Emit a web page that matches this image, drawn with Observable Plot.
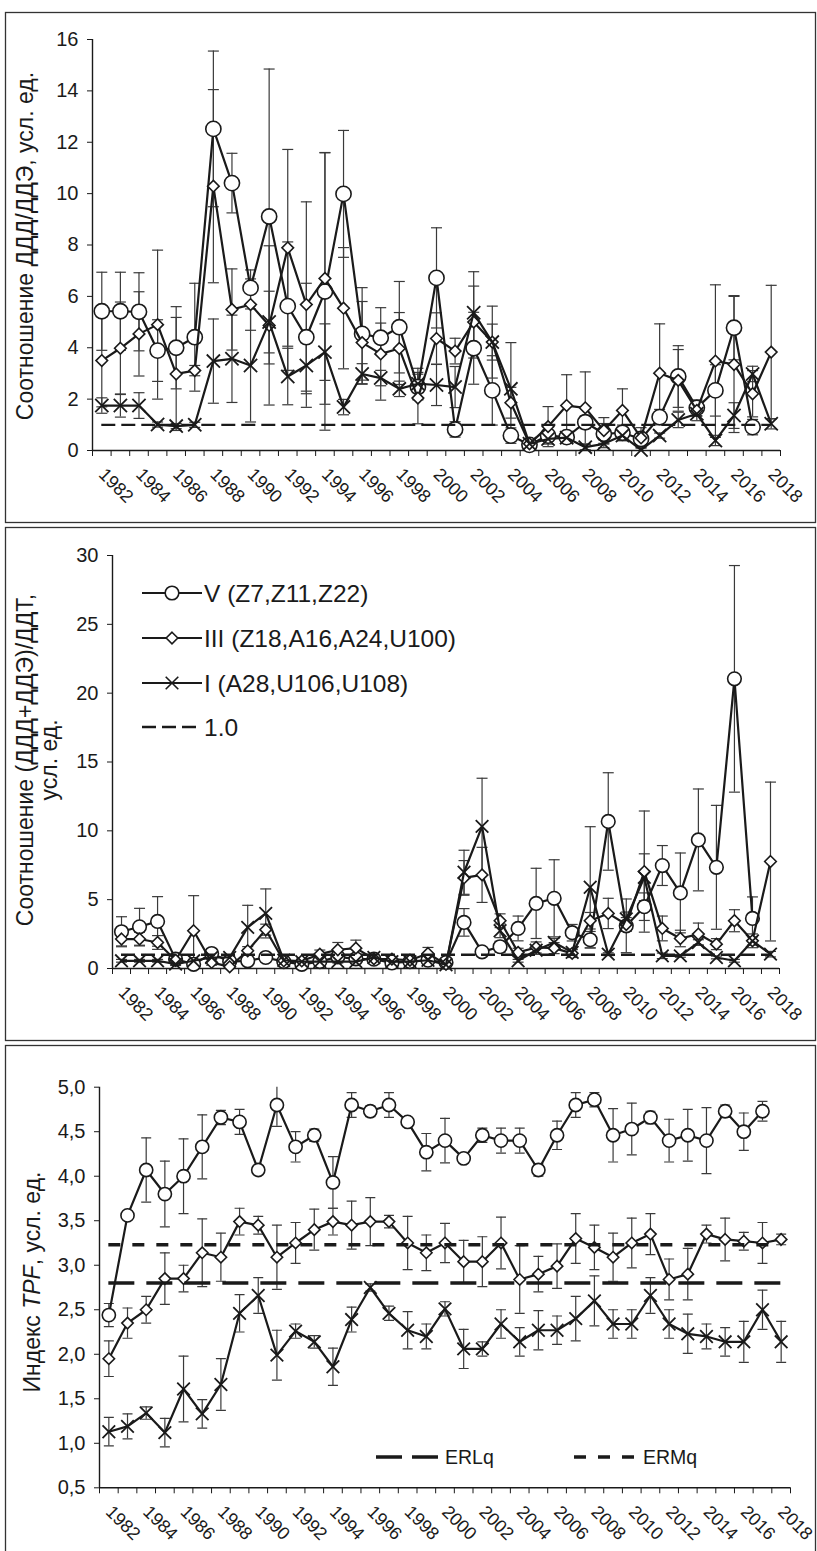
<!DOCTYPE html>
<html><head><meta charset="utf-8">
<script src="https://cdn.jsdelivr.net/npm/d3@7"></script>
<script src="https://cdn.jsdelivr.net/npm/@observablehq/plot@0.6"></script>
<style>
body{margin:0;background:#fff;}
#page{position:relative;width:817px;height:1551px;overflow:hidden;font-family:"Liberation Sans",Arial,sans-serif;}
.pl{position:absolute;left:0;}
#ov{position:absolute;left:0;top:0;pointer-events:none;}
</style></head><body><div id="page"></div>
<script>
// ---------- categories ----------
const years = [1982,1983,1984,1985,1986,1987,1988,1989,1990,1991,1992,1993,1994,1995,1996,1997,1998,1999,2000,2001,2002,2003,2004,2005,2006,2007,2008,2009,2010,2011,2012,2013,2014,2015,2016,2017,2018];
const xLabels = [1982,1984,1986,1988,1990,1992,1994,1996,1998,2000,2002,2004,2006,2008,2010,2012,2014,2016,2018];
const seriesNames = ["V (Z7,Z11,Z22)", "III (Z18,A16,A24,U100)", "I (A28,U106,U108)", "1.0"];

// ---------- panel 1: ДДД/ДДЭ ----------
const p1V  = [5.42,5.42,5.40,3.89,4.00,4.41,12.52,10.41,6.33,9.11,5.62,4.41,6.19,9.99,4.54,4.39,4.80,2.47,6.72,0.82,3.98,2.34,0.58,0.22,0.58,0.52,1.10,0.65,0.69,0.45,1.30,2.88,1.66,2.34,4.78,0.91,null];
const p1Ve = [1.52,1.52,1.52,1.2,1.6,2.1,3.03,1.16,0.7,5.74,2.5,2.1,5.4,2.47,1.8,0.57,1.78,0.5,1.95,0.3,1.4,1.35,0.3,0.1,0.2,0.2,0.25,0.4,0.3,0.2,0.3,1.2,0.3,1.0,1.25,0.3,null];
const p1III  = [3.50,3.98,4.54,4.90,2.98,3.11,10.29,5.49,5.68,4.87,7.89,5.68,6.70,5.54,4.20,3.76,3.97,2.04,4.36,3.87,5.00,4.22,1.86,0.26,0.93,1.75,1.66,0.78,1.56,0.49,3.01,2.73,1.56,3.48,3.35,2.21,3.83];
const p1IIIe = [1.8,1.8,1.64,2.9,2.2,0.2,3.76,1.58,1.0,3.1,3.83,4.0,4.9,2.36,1.6,1.8,1.4,1.0,1.0,0.5,1.4,0.7,0.6,0.1,0.78,1.2,1.4,0.5,0.84,0.4,1.92,1.2,0.4,2.97,2.65,0.9,2.6];
const p1I  = [1.75,1.75,1.75,1.01,0.95,1.00,3.48,3.57,3.31,5.00,2.88,3.31,3.83,1.69,2.98,2.82,2.40,2.60,2.55,2.47,5.36,4.22,2.40,0.26,0.45,0.50,0.13,0.26,0.58,0.02,0.58,1.19,1.43,0.39,1.36,2.98,1.04];
const p1Ie = [0.3,0.45,0.5,0.1,0.1,0.1,1.64,1.7,2.2,1.2,1.1,1.1,1.1,0.3,0.4,0.3,0.3,0.6,0.8,0.8,1.6,1.4,1.8,0.1,0.2,0.1,0.1,0.15,0.2,0.1,0.1,0.3,0.1,0.2,0.5,0.3,0.2];
const p1Ticks = [0,2,4,6,8,10,12,14,16];
const p1Ref = 1.0;

// ---------- panel 2: (ДДД+ДДЭ)/ДДТ ----------
const p2V  = [2.67,3.03,3.42,0.68,0.30,1.09,0.50,0.56,0.80,0.50,0.30,0.50,0.85,0.70,0.68,0.40,0.50,0.60,0.44,3.35,1.21,1.58,2.91,4.73,5.10,2.60,2.09,10.68,3.10,4.49,7.48,5.49,9.34,7.35,21.04,3.64,null];
const p2Ve = [1.09,1.34,1.8,0.2,0.2,0.2,0.1,0.2,0.3,0.2,0.1,0.2,0.2,0.2,0.1,0.1,0.2,0.2,0.1,1.0,0.2,0.4,0.9,2.55,2.8,0.6,0.6,3.54,1.95,1.0,1.45,2.9,3.7,4.5,8.23,1.56,null];
const p2III  = [2.14,2.14,1.89,0.60,2.74,0.44,0.12,1.29,2.82,0.55,0.55,1.04,1.36,1.48,0.70,0.68,0.60,1.09,0.30,6.58,6.80,3.47,1.17,1.53,1.48,1.10,3.47,4.00,3.20,7.04,2.91,2.18,2.50,1.77,3.47,2.01,7.77];
const p2IIIe = [0.5,0.5,0.5,0.2,2.55,0.2,0.1,0.3,0.4,0.2,0.2,0.3,0.53,0.58,0.2,0.2,0.2,0.44,0.1,1.26,2.0,0.5,0.3,0.4,0.4,0.3,0.6,1.1,0.5,4.4,0.9,0.6,0.8,0.4,0.8,0.5,5.77];
const p2I  = [0.56,0.56,0.56,0.32,0.56,0.80,0.80,2.99,4.00,0.60,0.50,0.50,0.50,0.50,0.80,0.50,0.50,0.60,0.27,6.99,10.32,2.74,0.56,1.33,1.89,1.17,5.90,1.04,3.60,6.63,0.92,0.92,1.89,0.80,0.56,2.00,1.04];
const p2Ie = [0.1,0.1,0.1,0.1,0.1,0.1,0.1,1.6,1.78,0.1,0.1,0.1,0.1,0.1,0.1,0.1,0.1,0.1,0.1,1.6,3.5,0.5,0.1,0.3,0.3,0.2,4.4,0.1,0.5,1.7,0.2,0.1,0.2,0.1,0.1,0.3,0.2];
const p2Ticks = [0,5,10,15,20,25,30];
const p2Ref = 1.0;

// ---------- panel 3: TPF ----------
const p3V  = [2.44,3.56,4.07,3.80,4.00,4.33,4.66,4.61,4.07,4.80,4.33,4.46,3.93,4.80,4.73,4.80,4.61,4.27,4.40,4.20,4.46,4.40,4.40,4.07,4.46,4.80,4.86,4.46,4.53,4.66,4.40,4.46,4.40,4.73,4.50,4.73,null];
const p3Ve = [0.13,0,0.36,0.37,0.42,0.36,0.08,0.14,0.05,0.24,0.17,0.07,0.29,0.14,0.06,0.14,0,0.21,0.25,0,0.08,0.14,0.14,0.07,0.16,0.14,0.08,0.3,0.29,0.07,0.24,0.29,0.37,0.07,0.21,0.11,null];
const p3III  = [1.95,2.35,2.50,2.85,2.85,3.14,3.09,3.49,3.45,3.09,3.25,3.40,3.49,3.45,3.49,3.49,3.25,3.14,3.25,3.04,3.04,3.25,2.84,2.90,2.99,3.30,3.20,3.09,3.25,3.35,2.84,2.90,3.35,3.29,3.27,3.25,3.29];
const p3IIIe = [0.2,0.17,0.15,0.29,0.15,0.38,0.27,0.15,0.1,0.36,0.23,0.23,0.15,0.27,0.27,0.07,0.3,0.2,0.22,0.24,0.28,0.29,0.38,0.2,0.25,0.28,0.25,0.27,0.28,0.23,0.23,0.29,0.1,0.24,0.1,0.23,0.06];
const p3I  = [1.13,1.19,1.34,1.12,1.61,1.33,1.66,2.46,2.66,1.99,2.26,2.14,1.86,2.39,2.75,2.46,2.27,2.20,2.51,2.06,2.06,2.34,2.14,2.27,2.27,2.40,2.60,2.34,2.34,2.66,2.34,2.23,2.20,2.14,2.14,2.50,2.14];
const p3Ie = [0.16,0.14,0.07,0.16,0.37,0.16,0.29,0.21,0.2,0.28,0.08,0.07,0.21,0.14,0.04,0.08,0.21,0.14,0.08,0.22,0.08,0.16,0.16,0.22,0.16,0.25,0.28,0.16,0.16,0.2,0.16,0.22,0.14,0.16,0.23,0.22,0.23];
const p3Ticks = [0.5,1.0,1.5,2.0,2.5,3.0,3.5,4.0,4.5,5.0];
const refNames = ["ERLq", "ERMq"];
const refValues = [2.80, 3.23];

const titles = {
  p1: ["Соотношение ДДД/ДДЭ, усл. ед."],
  p2: ["Соотношение (ДДД+ДДЭ)/ДДТ,", "усл. ед."],
  p3: ["Индекс ", "TPF", ", усл. ед."]
};

// ---------- symbols ----------
const R = s => Math.sqrt(s / Math.PI);
const symCircle = {draw(c, s){const r = R(s); c.moveTo(r, 0); c.arc(0, 0, r, 0, 2 * Math.PI); c.closePath();}};
const symDiamond = {draw(c, s){const r = R(s); c.moveTo(0, -r); c.lineTo(r, 0); c.lineTo(0, r); c.lineTo(-r, 0); c.closePath();}};
const symTimes = {draw(c, s){const r = R(s); c.moveTo(-r, -r); c.lineTo(r, r); c.moveTo(-r, r); c.lineTo(r, -r);}};
const symCap = {draw(c, s){const r = R(s); c.moveTo(-r, 0); c.lineTo(r, 0);}};

const INK = "#1a1a1a";
const ERR = "#3a3a3a";
const FONT = "'Liberation Sans', Arial, sans-serif";
const bounds = years.map(y => y - 0.5).concat([years[years.length - 1] + 0.5]);

function rowsOf(vals, errs) {
  return years.map((y, i) => ({year: y, v: vals[i], e: errs[i]})).filter(d => d.v != null);
}

function makePanel(cfg) {
  const marks = [];
  marks.push(Plot.ruleY([cfg.ydom[0]], {stroke: INK, strokeWidth: 1.4}));
  marks.push(Plot.ruleX([bounds[0]], {stroke: INK, strokeWidth: 1.4}));
  marks.push(Plot.axisY({ticks: cfg.yticks, tickSize: 5, tickPadding: 9, tickFormat: cfg.yfmt, fontSize: 20, color: INK, label: null}));
  marks.push(Plot.axisX({ticks: bounds, tickSize: 6, tickFormat: () => "", color: INK, label: null}));
  marks.push(Plot.axisX({ticks: xLabels, tickSize: 0, tickPadding: 21, tickRotate: 45, tickFormat: d => String(d), fontSize: 18, color: INK, label: null}));
  cfg.series.forEach(s => {
    const rows = rowsOf(s.v, s.e);
    const er = rows.filter(d => d.e > 0);
    marks.push(Plot.ruleX(er, {x: "year", y1: d => d.v - d.e, y2: d => d.v + d.e, stroke: ERR, strokeWidth: 1.2, clip: true}));
    marks.push(Plot.dot(er, {x: "year", y: d => d.v + d.e, symbol: symCap, r: cfg.cap, stroke: ERR, strokeWidth: 1.2, clip: true}));
    marks.push(Plot.dot(er, {x: "year", y: d => d.v - d.e, symbol: symCap, r: cfg.cap, stroke: ERR, strokeWidth: 1.2, clip: true}));
  });
  cfg.series.forEach(s => {
    const rows = rowsOf(s.v, s.e);
    marks.push(Plot.line(rows, {x: "year", y: "v", stroke: INK, strokeWidth: 2.2}));
    marks.push(Plot.dot(rows, {x: "year", y: "v", symbol: s.sym, r: s.r, fill: s.fill, stroke: INK, strokeWidth: s.sw}));
  });
  cfg.refs.forEach(rf => {
    marks.push(Plot.ruleY([rf.value], {x1: years[0], x2: years[years.length - 1], stroke: INK, strokeWidth: rf.w, strokeDasharray: rf.dash}));
  });
  const svg = Plot.plot({
    width: 817, height: cfg.height,
    marginTop: cfg.mt, marginBottom: cfg.mb, marginLeft: cfg.ml, marginRight: cfg.mr,
    x: {domain: [bounds[0], bounds[bounds.length - 1]]},
    y: {domain: cfg.ydom},
    style: {fontFamily: FONT, color: INK, background: "transparent", overflow: "visible"},
    marks
  });
  const wrap = document.createElement("div");
  wrap.className = "pl";
  wrap.style.top = cfg.top + "px";
  wrap.appendChild(svg);
  document.getElementById("page").appendChild(wrap);
}

const sV = (v, e, r) => ({v, e, sym: symCircle, r, fill: "white", sw: 1.6});
const sIII = (v, e, r) => ({v, e, sym: symDiamond, r, fill: "white", sw: 1.6});
const sI = (v, e, r) => ({v, e, sym: symTimes, r, fill: "none", sw: 1.8});

makePanel({top: 12, height: 510, mt: 27, mb: 72, ml: 92, mr: 37, ydom: [0, 16], yticks: p1Ticks, yfmt: d => String(d), cap: 5.5,
  series: [sV(p1V, p1Ve, 7.6), sIII(p1III, p1IIIe, 5.8), sI(p1I, p1Ie, 6.6)],
  refs: [{value: p1Ref, w: 2.2, dash: "14,6"}]});
makePanel({top: 527, height: 513, mt: 28, mb: 72, ml: 112, mr: 38, ydom: [0, 30], yticks: p2Ticks, yfmt: d => String(d), cap: 5.5,
  series: [sV(p2V, p2Ve, 6.8), sIII(p2III, p2IIIe, 5.8), sI(p2I, p2Ie, 6.3)],
  refs: [{value: p2Ref, w: 2.4, dash: "14,6"}]});
makePanel({top: 1045, height: 506, mt: 41.7, mb: 63.7, ml: 99, mr: 27, ydom: [0.5, 5], yticks: p3Ticks, yfmt: d => d3.format(".1f")(d).replace(".", ","), cap: 5,
  series: [sV(p3V, p3Ve, 6.6), sIII(p3III, p3IIIe, 5.7), sI(p3I, p3Ie, 6.3)],
  refs: [{value: refValues[0], w: 3.6, dash: "26,12"}, {value: refValues[1], w: 3.6, dash: "12,12"}]});

// ---------- overlay: frames, axis titles, legends ----------
const ov = d3.select("#page").append("svg").attr("id", "ov").attr("width", 817).attr("height", 1551)
  .style("font-family", FONT).style("fill", INK);
[[12, 522], [527, 1040], [1045, 1560]].forEach(([a, b]) => {
  ov.append("rect").attr("x", 5.5).attr("y", a + 0.5).attr("width", 810).attr("height", b - a)
    .attr("fill", "none").attr("stroke", "#333").attr("stroke-width", 1.3);
});
ov.append("text").attr("transform", "translate(33,246) rotate(-90)").attr("text-anchor", "middle")
  .attr("font-size", 23).text(titles.p1[0]);
ov.append("text").attr("transform", "translate(33,760) rotate(-90)").attr("text-anchor", "middle")
  .attr("font-size", 23).text(titles.p2[0]);
ov.append("text").attr("transform", "translate(57,760) rotate(-90)").attr("text-anchor", "middle")
  .attr("font-size", 23).text(titles.p2[1]);
const t3 = ov.append("text").attr("transform", "translate(40,1282) rotate(-90)").attr("text-anchor", "middle").attr("font-size", 23);
t3.append("tspan").text(titles.p3[0]);
t3.append("tspan").attr("font-style", "italic").text(titles.p3[1]);
t3.append("tspan").text(titles.p3[2]);

// panel 2 legend
const legRows = [593, 638, 683, 727];
const legSyms = [symCircle, symDiamond, symTimes];
const legR = [6.8, 5.8, 6.3];
legRows.forEach((y, i) => {
  if (i < 3) {
    ov.append("line").attr("x1", 142).attr("x2", 202).attr("y1", y).attr("y2", y).attr("stroke", INK).attr("stroke-width", 2.2);
    ov.append("path").attr("transform", `translate(172,${y})`)
      .attr("d", d3.symbol(legSyms[i], Math.PI * legR[i] * legR[i])())
      .attr("fill", i < 2 ? "white" : "none").attr("stroke", INK).attr("stroke-width", 1.6);
  } else {
    ov.append("line").attr("x1", 142).attr("x2", 202).attr("y1", y).attr("y2", y).attr("stroke", INK).attr("stroke-width", 2.4).attr("stroke-dasharray", "14,6");
  }
  ov.append("text").attr("x", 204).attr("y", y).attr("dy", "0.36em").attr("font-size", 24.5).text(seriesNames[i]);
});
// panel 3 legend
const ly = 1457;
ov.append("line").attr("x1", 376).attr("x2", 438).attr("y1", ly).attr("y2", ly).attr("stroke", INK).attr("stroke-width", 3.6).attr("stroke-dasharray", "26,10");
ov.append("text").attr("x", 445).attr("y", ly).attr("dy", "0.36em").attr("font-size", 19.5).text(refNames[0]);
ov.append("line").attr("x1", 574).attr("x2", 636).attr("y1", ly).attr("y2", ly).attr("stroke", INK).attr("stroke-width", 3.6).attr("stroke-dasharray", "12,12");
ov.append("text").attr("x", 643).attr("y", ly).attr("dy", "0.36em").attr("font-size", 19.5).text(refNames[1]);
</script></body></html>
